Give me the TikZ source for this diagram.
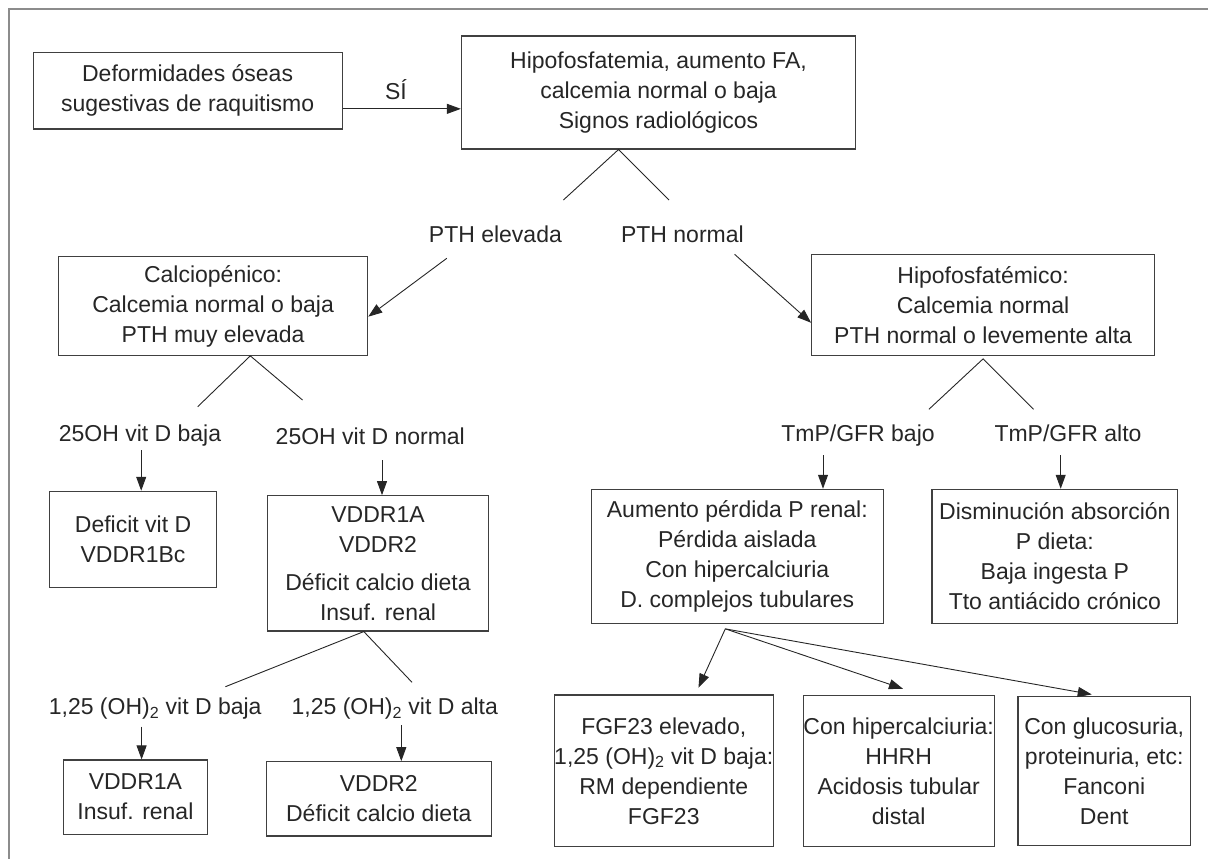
\documentclass[tikz,border=0pt]{standalone}
\usepackage{fontspec}
\setmainfont{Liberation Sans}
\usetikzlibrary{arrows.meta,calc}
\begin{document}
\begin{tikzpicture}[x=1pt,y=-1pt,
  every node/.style={font=\fontsize{23}{30}\selectfont, text=black!85},
  box/.style={draw=black!75, line width=1.1pt, align=center, inner sep=0pt},
  lbl/.style={inner sep=0pt, text height=16.5pt, text depth=0pt},
  conn/.style={draw=black!85, line width=0.9pt},
  arr/.style={conn, -{Triangle[length=14pt,width=10pt]}},
  frameline/.style={draw=black!45, line width=2pt}
]
\useasboundingbox (0,0) rectangle (1208,859);
\draw[frameline] (1208,9) -- (8.7,9) -- (8.7,859);

% boxes
\node[box, minimum width=309pt, minimum height=76.3pt] (A) at (187.6,90.85) {Deformidades óseas\\sugestivas de raquitismo};
\node[box, minimum width=394.2pt, minimum height=113pt] (B) at (658.5,92.5) {Hipofosfatemia, aumento FA,\\calcemia normal o baja\\Signos radiológicos};
\node[box, minimum width=309.2pt, minimum height=98.6pt] (C) at (213.1,306) {Calciopénico:\\Calcemia normal o baja\\PTH muy elevada};
\node[box, minimum width=342.8pt, minimum height=101pt] (D) at (983.1,304.8) {Hipofosfatémico:\\Calcemia normal\\PTH normal o levemente alta};
\node[box, minimum width=166.5pt, minimum height=96pt] (Def) at (133.05,539.3) {Deficit vit D\\VDDR1Bc};
\node[box, minimum width=221.4pt, minimum height=135.3pt] (VD) at (378,563.35) {VDDR1A\\VDDR2\\[8pt]Déficit calcio dieta\\Insuf. renal};
\node[box, minimum width=144.3pt, minimum height=74.3pt] (V1) at (135.45,797.15) {VDDR1A\\Insuf. renal};
\node[box, minimum width=225.4pt, minimum height=74.3pt] (V2) at (378.8,798.85) {VDDR2\\Déficit calcio dieta};
\node[box, minimum width=292.4pt, minimum height=134pt] (AU) at (737.3,556.3) {Aumento pérdida P renal:\\Pérdida aislada\\Con hipercalciuria\\D. complejos tubulares};
\node[box, minimum width=245.8pt, minimum height=134pt] (DI) at (1054.9,556.3) {Disminución absorción\\P dieta:\\Baja ingesta P\\Tto antiácido crónico};
\node[box, minimum width=217.7pt, minimum height=151.7pt] (FG) at (663.75,770.85) {FGF23 elevado,\\1,25 (OH)\textsubscript{2} vit D baja:\\RM dependiente\\FGF23};
\node[box, minimum width=190.8pt, minimum height=151pt] (HH) at (898.7,771.2) {Con hipercalciuria:\\HHRH\\Acidosis tubular\\distal};
\node[box, minimum width=172.5pt, minimum height=149pt] (GL) at (1104.25,771.2) {Con glucosuria,\\proteinuria, etc:\\Fanconi\\Dent};

% labels
\node[lbl] (si) at (396,91.7) {SÍ};
\node[lbl] (pe) at (495.4,234.3) {PTH elevada};
\node[lbl] (pn) at (682.4,234) {PTH normal};
\node[lbl] (vb) at (140,433.3) {25OH vit D baja};
\node[lbl] (vn) at (370.3,436.7) {25OH vit D normal};
\node[lbl] (db) at (155.2,706.7) {1,25 (OH)\textsubscript{2} vit D baja};
\node[lbl] (da) at (394.8,706.7) {1,25 (OH)\textsubscript{2} vit D alta};
\node[lbl] (tb) at (858,433.3) {TmP/GFR bajo};
\node[lbl] (ta) at (1068,433.3) {TmP/GFR alto};

% connectors
\coordinate (a1) at ([yshift=-18pt]A.east);
\draw[arr] (a1) -- (a1 -| B.west);

\coordinate (bA) at ([xshift=-40pt]B.south);
\coordinate (bL) at (563.4,200);
\coordinate (bR) at (669,200);
\draw[conn] (bL) -- (bA) -- (bR);

\coordinate (peS) at (446.8,258.3);
\draw[arr] (peS) -- ([yshift=-10.7pt]C.east);
\coordinate (pnS) at (734.6,254.3);
\draw[arr] (pnS) -- ([yshift=-18pt]D.west);

\coordinate (cA) at ([xshift=37.2pt]C.south);
\coordinate (cL) at (197.7,406.7);
\coordinate (cR) at (302.5,400);
\draw[conn] (cL) -- (cA) -- (cR);

\coordinate (s1) at (141.2,450);
\draw[arr] (s1) -- (s1 |- Def.north);
\coordinate (s2) at (382,460);
\draw[arr] (s2) -- (s2 |- VD.north);

\coordinate (vA) at ([xshift=-14.2pt]VD.south);
\coordinate (vL) at (225.4,686.7);
\coordinate (vR) at (412,682.3);
\draw[conn] (vL) -- (vA) -- (vR);

\coordinate (s3) at (141.6,726.7);
\draw[arr] (s3) -- (s3 |- V1.north);
\coordinate (s4) at (401.3,725);
\draw[arr] (s4) -- (s4 |- V2.north);

\coordinate (dA) at ([yshift=-3pt]D.south);
\coordinate (dL) at (928.9,409.3);
\coordinate (dR) at (1033.6,409.3);
\draw[conn] (dL) -- (dA) -- (dR);

\coordinate (s5) at (823,455);
\draw[arr] (s5) -- (s5 |- AU.north);
\coordinate (s6) at (1060.7,455);
\draw[arr] (s6) -- (s6 |- DI.north);

\coordinate (auA) at ([xshift=-12pt,yshift=-5pt]AU.south);
\draw[arr] (auA) -- ([xshift=34.7pt,yshift=6.7pt]FG.north);
\draw[arr] (auA) -- ([xshift=4.3pt,yshift=6.4pt]HH.north);
\draw[arr] (auA) -- ([xshift=-12.5pt,yshift=1.7pt]GL.north);
\end{tikzpicture}
\end{document}
